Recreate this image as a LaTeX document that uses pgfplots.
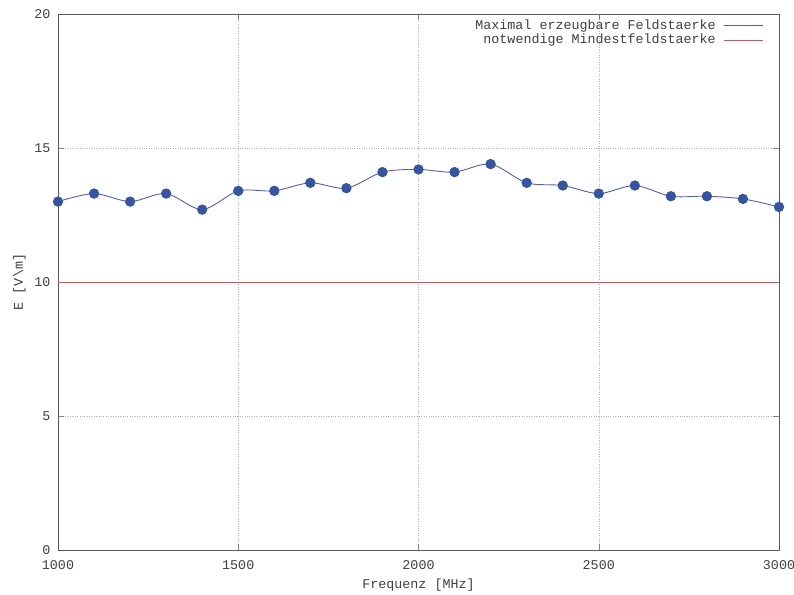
\documentclass[border=0pt]{standalone}
\usepackage{fontspec}
\setmainfont{Liberation Mono}
\usepackage{pgfplots}
\pgfplotsset{compat=1.18}
\definecolor{txt}{RGB}{64,64,64}
\definecolor{axl}{RGB}{90,90,90}
\definecolor{bl}{RGB}{52,84,164}
\definecolor{bll}{RGB}{80,95,180}
\definecolor{rd}{RGB}{235,75,75}
\begin{document}
\begin{tikzpicture}
\useasboundingbox (-58bp,-45bp) rectangle (736bp,550bp);
\begin{axis}[
  scale only axis,
  width=721bp, height=536bp,
  xmin=1000, xmax=3000, ymin=0, ymax=20,
  xtick={1000,1500,2000,2500,3000},
  ytick={0,5,10,15,20},
  tick align=inside,
  major tick length=6bp,
  axis line style={axl, line width=0.8pt},
  grid=major,
  major grid style={gray!60, dotted, line width=0.5pt},
  /pgf/number format/assume math mode=true,
  /pgf/number format/set thousands separator={},
  tick label style={font=\fontsize{13.4}{14}\selectfont, text=txt},
  xticklabel style={yshift=-7bp},
  yticklabel style={xshift=-4bp},
  xlabel={Frequenz [MHz]},
  ylabel={E [V\textbackslash m]},
  label style={font=\fontsize{13.4}{14}\selectfont, text=txt},
  xlabel style={yshift=-2bp},
  ylabel style={yshift=2bp},
]
\addplot[color=bll, line width=0.9pt, smooth, tension=0.5, mark=*,
  mark size=4.7bp, mark options={fill=bl, draw=bl, solid}]
  coordinates {
  (1000,13.0) (1100,13.3) (1200,13.0) (1300,13.3) (1400,12.7)
  (1500,13.4) (1600,13.4) (1700,13.7) (1800,13.5) (1900,14.1)
  (2000,14.2) (2100,14.1) (2200,14.4) (2300,13.7) (2400,13.6)
  (2500,13.3) (2600,13.6) (2700,13.2) (2800,13.2) (2900,13.1)
  (3000,12.8)
  };
\addplot[color=rd, line width=0.9pt] coordinates {(1000,10) (3000,10)};
% legend (gnuplot style: text right-aligned, sample to the right)
\node[anchor=mid east, inner sep=0pt, text=txt, font=\fontsize{13.4}{14}\selectfont]
  at (rel axis cs:0.9126,0.9758) {Maximal erzeugbare Feldstaerke};
\node[anchor=mid east, inner sep=0pt, text=txt, font=\fontsize{13.4}{14}\selectfont]
  at (rel axis cs:0.9126,0.9490) {notwendige Mindestfeldstaerke};
\draw[bll, line width=1pt] (rel axis cs:0.9237,0.9778) -- (rel axis cs:0.9778,0.9778);
\draw[rd, line width=1pt] (rel axis cs:0.9237,0.9510) -- (rel axis cs:0.9778,0.9510);
\end{axis}
\end{tikzpicture}
\end{document}
